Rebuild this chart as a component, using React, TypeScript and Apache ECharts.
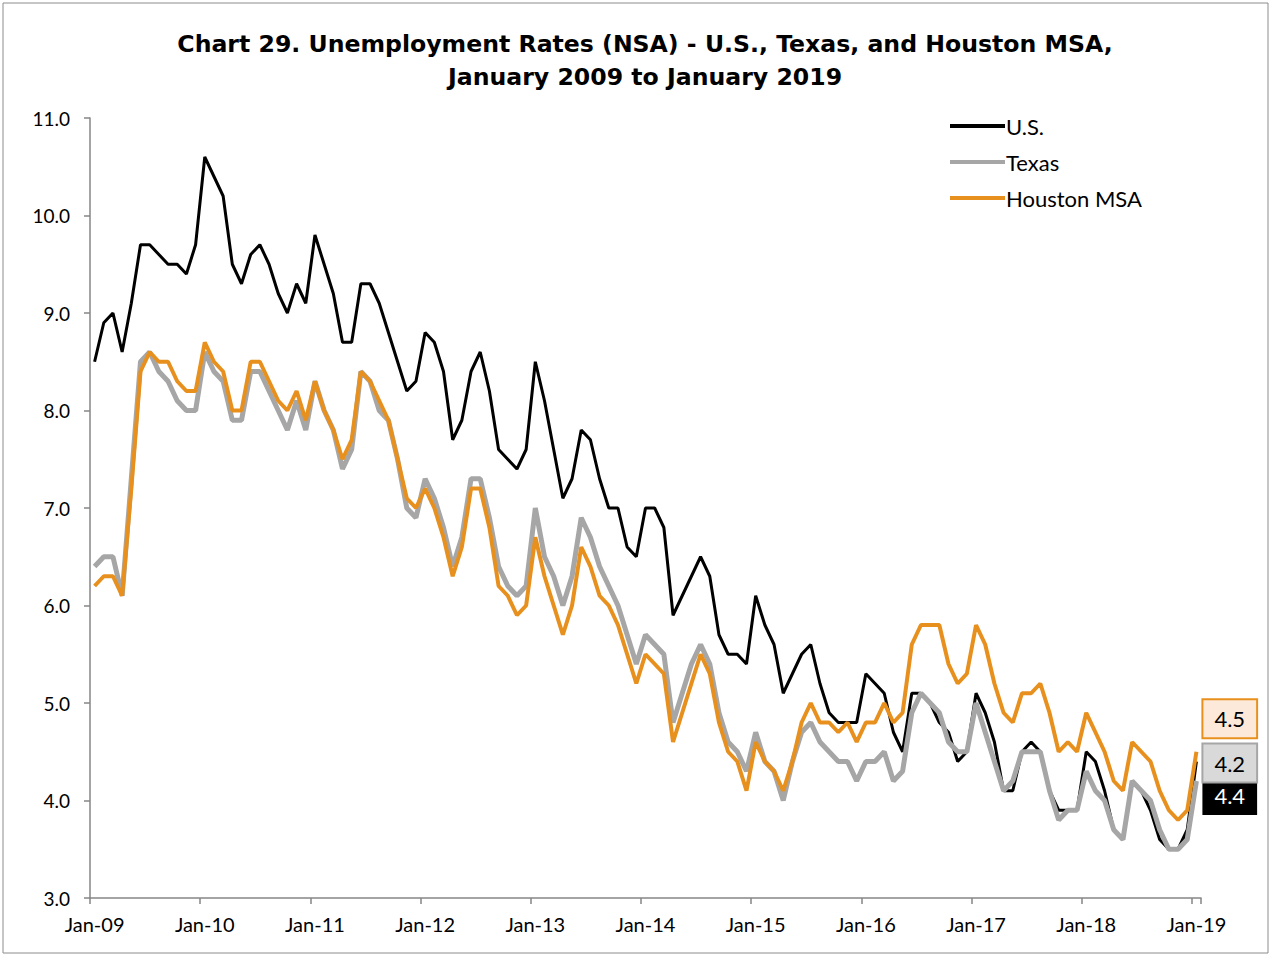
import React, { useEffect, useRef } from "react";
import * as echarts from "echarts";

const monthNames = ["Jan", "Feb", "Mar", "Apr", "May", "Jun", "Jul", "Aug", "Sep", "Oct", "Nov", "Dec"];
const yearLabels = ["09", "10", "11", "12", "13", "14", "15", "16", "17", "18", "19"];

const categories: string[] = [];
yearLabels.forEach((y, yi) => {
  monthNames.forEach((m, mi) => {
    if (yi < yearLabels.length - 1 || mi === 0) categories.push(`${m}-${y}`);
  });
});

const usRate = [
  8.5, 8.9, 9.0, 8.6, 9.1, 9.7, 9.7, 9.6, 9.5, 9.5, 9.4, 9.7,
  10.6, 10.4, 10.2, 9.5, 9.3, 9.6, 9.7, 9.5, 9.2, 9.0, 9.3, 9.1,
  9.8, 9.5, 9.2, 8.7, 8.7, 9.3, 9.3, 9.1, 8.8, 8.5, 8.2, 8.3,
  8.8, 8.7, 8.4, 7.7, 7.9, 8.4, 8.6, 8.2, 7.6, 7.5, 7.4, 7.6,
  8.5, 8.1, 7.6, 7.1, 7.3, 7.8, 7.7, 7.3, 7.0, 7.0, 6.6, 6.5,
  7.0, 7.0, 6.8, 5.9, 6.1, 6.3, 6.5, 6.3, 5.7, 5.5, 5.5, 5.4,
  6.1, 5.8, 5.6, 5.1, 5.3, 5.5, 5.6, 5.2, 4.9, 4.8, 4.8, 4.8,
  5.3, 5.2, 5.1, 4.7, 4.5, 5.1, 5.1, 5.0, 4.8, 4.7, 4.4, 4.5,
  5.1, 4.9, 4.6, 4.1, 4.1, 4.5, 4.6, 4.5, 4.1, 3.9, 3.9, 3.9,
  4.5, 4.4, 4.1, 3.7, 3.6, 4.2, 4.1, 3.9, 3.6, 3.5, 3.5, 3.7,
  4.4,
];

const texasRate = [
  6.4, 6.5, 6.5, 6.1, 7.3, 8.5, 8.6, 8.4, 8.3, 8.1, 8.0, 8.0,
  8.6, 8.4, 8.3, 7.9, 7.9, 8.4, 8.4, 8.2, 8.0, 7.8, 8.1, 7.8,
  8.3, 8.0, 7.8, 7.4, 7.6, 8.4, 8.3, 8.0, 7.9, 7.5, 7.0, 6.9,
  7.3, 7.1, 6.8, 6.4, 6.7, 7.3, 7.3, 6.9, 6.4, 6.2, 6.1, 6.2,
  7.0, 6.5, 6.3, 6.0, 6.3, 6.9, 6.7, 6.4, 6.2, 6.0, 5.7, 5.4,
  5.7, 5.6, 5.5, 4.8, 5.1, 5.4, 5.6, 5.4, 4.9, 4.6, 4.5, 4.3,
  4.7, 4.4, 4.3, 4.0, 4.4, 4.7, 4.8, 4.6, 4.5, 4.4, 4.4, 4.2,
  4.4, 4.4, 4.5, 4.2, 4.3, 4.9, 5.1, 5.0, 4.9, 4.6, 4.5, 4.5,
  5.0, 4.7, 4.4, 4.1, 4.2, 4.5, 4.5, 4.5, 4.1, 3.8, 3.9, 3.9,
  4.3, 4.1, 4.0, 3.7, 3.6, 4.2, 4.1, 4.0, 3.7, 3.5, 3.5, 3.6,
  4.2,
];

const houstonRate = [
  6.2, 6.3, 6.3, 6.1, 7.2, 8.4, 8.6, 8.5, 8.5, 8.3, 8.2, 8.2,
  8.7, 8.5, 8.4, 8.0, 8.0, 8.5, 8.5, 8.3, 8.1, 8.0, 8.2, 7.9,
  8.3, 8.0, 7.8, 7.5, 7.7, 8.4, 8.3, 8.1, 7.9, 7.5, 7.1, 7.0,
  7.2, 7.0, 6.7, 6.3, 6.6, 7.2, 7.2, 6.8, 6.2, 6.1, 5.9, 6.0,
  6.7, 6.3, 6.0, 5.7, 6.0, 6.6, 6.4, 6.1, 6.0, 5.8, 5.5, 5.2,
  5.5, 5.4, 5.3, 4.6, 4.9, 5.2, 5.5, 5.3, 4.8, 4.5, 4.4, 4.1,
  4.6, 4.4, 4.3, 4.1, 4.4, 4.8, 5.0, 4.8, 4.8, 4.7, 4.8, 4.6,
  4.8, 4.8, 5.0, 4.8, 4.9, 5.6, 5.8, 5.8, 5.8, 5.4, 5.2, 5.3,
  5.8, 5.6, 5.2, 4.9, 4.8, 5.1, 5.1, 5.2, 4.9, 4.5, 4.6, 4.5,
  4.9, 4.7, 4.5, 4.2, 4.1, 4.6, 4.5, 4.4, 4.1, 3.9, 3.8, 3.9,
  4.5,
];

const seriesNames = ["U.S.", "Texas", "Houston MSA"];

const FONT = "Lato, 'Open Sans', sans-serif";
const TITLE_FONT = "'DejaVu Sans', Lato, sans-serif";

export default function App() {
  const ref = useRef<HTMLDivElement>(null);

  useEffect(() => {
    if (!ref.current) return;
    const chart = echarts.init(ref.current, null, { renderer: "svg" });

    const endLabelBase = {
      show: true,
      distance: 7,
      fontFamily: FONT,
      fontSize: 22,
      lineHeight: 25,
      padding: [6, 11, 6, 11],
      formatter: (p: any) => Number(p.value).toFixed(1),
    };

    chart.setOption({
      animation: false,
      backgroundColor: "#ffffff",
      title: {
        text: "Chart 29. Unemployment Rates (NSA) - U.S., Texas, and Houston MSA,\nJanuary 2009 to January 2019",
        left: 640,
        top: 22,
        textAlign: "center",
        textStyle: {
          fontFamily: TITLE_FONT,
          fontWeight: "bold",
          fontSize: 23.6,
          lineHeight: 33,
          color: "#000",
        },
      },
      legend: {
        orient: "vertical",
        left: 945,
        top: 110,
        itemWidth: 55,
        itemHeight: 4,
        itemGap: 14,
        icon: "rect",
        data: [
          { name: seriesNames[0], itemStyle: { color: "#000000" } },
          { name: seriesNames[1], itemStyle: { color: "#A6A6A6" } },
          { name: seriesNames[2], itemStyle: { color: "#E8901E" } },
        ],
        textStyle: { fontFamily: FONT, fontSize: 22, color: "#000", padding: [0, 0, 0, -4] },
        selectedMode: false,
      },
      grid: {
        left: 90,
        top: 118,
        width: 1111,
        height: 780,
        containLabel: false,
      },
      xAxis: {
        type: "category",
        data: categories,
        boundaryGap: true,
        axisLine: { show: true, lineStyle: { color: "#868686", width: 1.5 } },
        axisTick: { show: true, interval: 11, length: 6, lineStyle: { color: "#868686", width: 1.5 } },
        axisLabel: {
          interval: 11,
          margin: 16,
          fontFamily: FONT,
          fontSize: 20,
          color: "#000",
        },
        splitLine: { show: false },
      },
      yAxis: {
        type: "value",
        min: 3,
        max: 11,
        interval: 1,
        axisLine: { show: true, lineStyle: { color: "#868686", width: 1.5 } },
        axisTick: { show: true, length: 6, lineStyle: { color: "#868686", width: 1.5 } },
        axisLabel: {
          margin: 20,
          fontFamily: FONT,
          fontSize: 19,
          color: "#000",
          formatter: (v: number) => v.toFixed(1),
        },
        splitLine: { show: false },
      },
      graphic: [
        {
          type: "rect",
          shape: { x: 3, y: 3, width: 1265, height: 950 },
          style: { fill: "none", stroke: "#8c8c8c", lineWidth: 1 },
          silent: true,
          z: -10,
        },
      ],
      series: [
        {
          name: seriesNames[0],
          type: "line",
          data: usRate,
          symbol: "none",
          lineStyle: { color: "#000000", width: 3 },
          itemStyle: { color: "#000000" },
          z: 2,
          endLabel: {
            ...endLabelBase,
            offset: [0, 34],
            color: "#ffffff",
            backgroundColor: "#000000",
            borderColor: "#000000",
            borderWidth: 1,
          },
        },
        {
          name: seriesNames[1],
          type: "line",
          data: texasRate,
          symbol: "none",
          lineStyle: { color: "#A6A6A6", width: 5 },
          itemStyle: { color: "#A6A6A6" },
          z: 3,
          endLabel: {
            ...endLabelBase,
            offset: [0, -18],
            color: "#000000",
            backgroundColor: "#D9D9D9",
            borderColor: "#A6A6A6",
            borderWidth: 2,
          },
        },
        {
          name: seriesNames[2],
          type: "line",
          data: houstonRate,
          symbol: "none",
          lineStyle: { color: "#E8901E", width: 4 },
          itemStyle: { color: "#E8901E" },
          z: 4,
          endLabel: {
            ...endLabelBase,
            offset: [0, -33],
            color: "#000000",
            backgroundColor: "#FDE9D9",
            borderColor: "#E8901E",
            borderWidth: 2,
          },
        },
      ],
    });

    return () => {
      chart.dispose();
    };
  }, []);

  return (
    <div
      ref={ref}
      style={{ position: "absolute", left: 0, top: 0, width: 1271, height: 956 }}
    />
  );
}
